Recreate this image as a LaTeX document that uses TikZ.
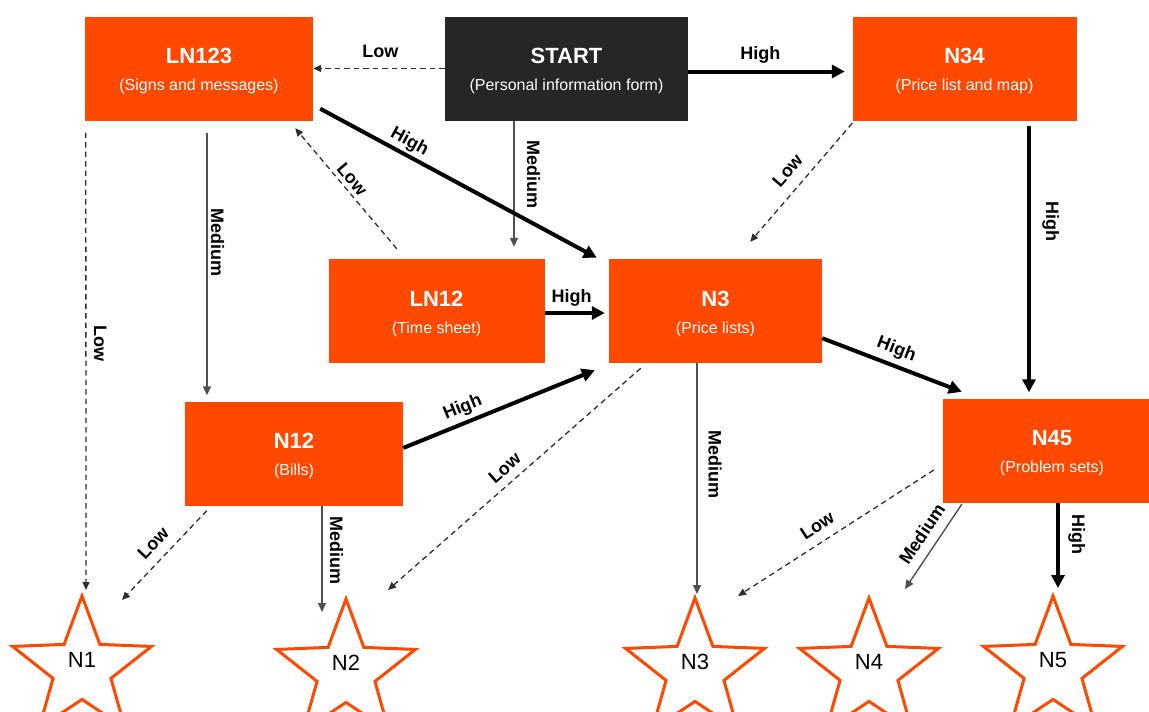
\documentclass[tikz,border=0pt]{standalone}
\usepackage{fontspec}
\setmainfont{Liberation Sans}
\usetikzlibrary{arrows.meta,calc,shapes.geometric}
\definecolor{orng}{RGB}{255,72,0}
\definecolor{darkbox}{RGB}{38,38,38}
\definecolor{lineg}{RGB}{80,80,80}
\definecolor{dashg}{RGB}{45,45,45}
\newcommand\ttl[1]{{\fontsize{22}{27}\selectfont\bfseries\rule{0pt}{21pt}#1}}
\newcommand\sbt[1]{{\fontsize{16}{27}\selectfont #1}}
\begin{document}
\begin{tikzpicture}[x=1pt,y=-1pt,
 box/.style={fill=orng,text=white,minimum height=104pt,inner sep=0pt,align=center,font=\fontsize{16}{27}\selectfont},
 startbox/.style={box,fill=darkbox},
 starnode/.style={star,star points=5,star point ratio=2.4,minimum size=146pt,draw=orng,line width=3pt,inner sep=0pt,font=\fontsize{22}{22}\selectfont,text height=16pt,text depth=20pt},
 lbl/.style={font=\fontsize{18}{18}\selectfont\bfseries,inner sep=2pt,text height=13pt,text depth=4pt},
 hi/.style={draw=black,line width=4pt,-{Triangle[length=13pt,width=13pt]}},
 med/.style={draw=lineg,line width=1.4pt,-{Triangle[length=9pt,width=8pt]}},
 lo/.style={draw=dashg,line width=1.3pt,dash pattern=on 5.5pt off 4pt,-{Triangle[length=8pt,width=7pt]}}]
\path[use as bounding box,clip] (0,0) rectangle (1149,712);

\node[box,minimum width=228pt] (LN123) at (199,68.5) {\ttl{LN123}\\\sbt{(Signs and messages)}};
\node[startbox,minimum width=243pt] (START) at (566.5,68.5) {\ttl{START}\\\sbt{(Personal information form)}};
\node[box,minimum width=224pt] (N34) at (964.5,68.5) {\ttl{N34}\\\sbt{(Price list and map)}};
\node[box,minimum width=216pt] (LN12) at (436.5,311) {\ttl{LN12}\\\sbt{(Time sheet)}};
\node[box,minimum width=213pt] (N3) at (715.5,311) {\ttl{N3}\\\sbt{(Price lists)}};
\node[box,minimum width=218pt] (N12) at (294,453.5) {\ttl{N12}\\\sbt{(Bills)}};
\node[box,minimum width=218pt] (N45) at (1052,450.5) {\ttl{N45}\\\sbt{(Problem sets)}};

\node[starnode] (S1) at (82,669) {N1};
\node[starnode] (S2) at (346,672) {N2};
\node[starnode] (S3) at (695,671) {N3};
\node[starnode] (S4) at (869,671) {N4};
\node[starnode] (S5) at (1053,669) {N5};

\draw[lo] (START.west) -- (LN123.east) node[lbl,pos=.49,above=4.5pt]{Low};
\draw[hi,shorten >=7.5pt] ([yshift=-3pt]START.east) -- ([yshift=-3pt]N34.west) node[lbl,pos=.44,above=4.5pt]{High};
\draw[med] ($(START.south)+(-52.5,0)$) -- ($(LN12.north)+(77.5,-12)$) node[lbl,pos=.43,rotate=-90,above=6.5pt]{Medium};
\draw[hi] ($(LN123.south east)+(7,-12)$) -- ($(N3.north west)+(-12,-1)$) node[lbl,pos=.30,sloped,above=0.5pt]{High};
\draw[lo] ($(LN12.north west)+(68.5,-10)$) -- ($(LN123.south east)+(-18,7.5)$) node[lbl,pos=.52,sloped,above=-2pt]{Low};
\draw[med] ($(LN123.south)+(8,12)$) -- ($(N12.north)+(-87,-6)$) node[lbl,pos=.42,rotate=-90,above=-2.5pt]{Medium};
\draw[lo] ($(LN123.south west)+(1,12)$) -- ($(S1.center)+(4,-79)$) node[lbl,pos=.46,rotate=-90,above=1.5pt]{Low};
\draw[hi,shorten >=4pt] ([yshift=-2pt]LN12.east) -- ([yshift=-2pt]N3.west) node[lbl,pos=.42,above=2.5pt]{High};
\draw[lo] ($(N34.south west)+(0,2.5)$) -- ($(N3.north east)+(-72,-17)$) node[lbl,pos=.50,sloped,above=5.4pt]{Low};
\draw[hi] ($(N34.south)+(64.5,5)$) -- ($(N45.north)+(-23,-6)$) node[lbl,pos=.36,rotate=-90,above=9pt]{High};
\draw[hi] ($(N3.south east)+(0,-25)$) -- ($(N45.north west)+(19,-6.5)$) node[lbl,pos=.49,sloped,above=3.3pt]{High};
\draw[hi] ($(N12.east)+(0,-5.5)$) -- ($(N3.south west)+(-14,7)$) node[lbl,pos=.34,sloped,above=2pt]{High};
\draw[lo] ($(N3.south west)+(32,5)$) -- ($(S2.center)+(42,-82)$) node[lbl,pos=.50,sloped,above=2pt]{Low};
\draw[med] ($(N3.south)+(-18.5,0)$) -- ($(S3.center)+(2,-77)$) node[lbl,pos=.44,rotate=-90,above=5pt]{Medium};
\draw[lo] ($(N12.south west)+(22,5)$) -- ($(S1.center)+(40,-69)$) node[lbl,pos=.49,sloped,above=4pt]{Low};
\draw[med] ($(N12.south)+(28,0)$) -- ($(S2.center)+(-24,-60)$) node[lbl,pos=.42,rotate=-90,above=1.5pt]{Medium};
\draw[lo] ($(N45.west)+(-9,19.5)$) -- ($(S3.center)+(43,-75)$) node[lbl,pos=.55,sloped,above=3.5pt]{Low};
\draw[med] ($(N45.south west)+(19,1.5)$) -- ($(S4.center)+(36,-82)$) node[lbl,pos=.46,sloped,above=3.5pt]{Medium};
\draw[hi] ($(N45.south)+(6,0)$) -- ($(S5.center)+(5,-81)$) node[lbl,pos=.37,rotate=-90,above=6pt]{High};
\end{tikzpicture}
\end{document}
